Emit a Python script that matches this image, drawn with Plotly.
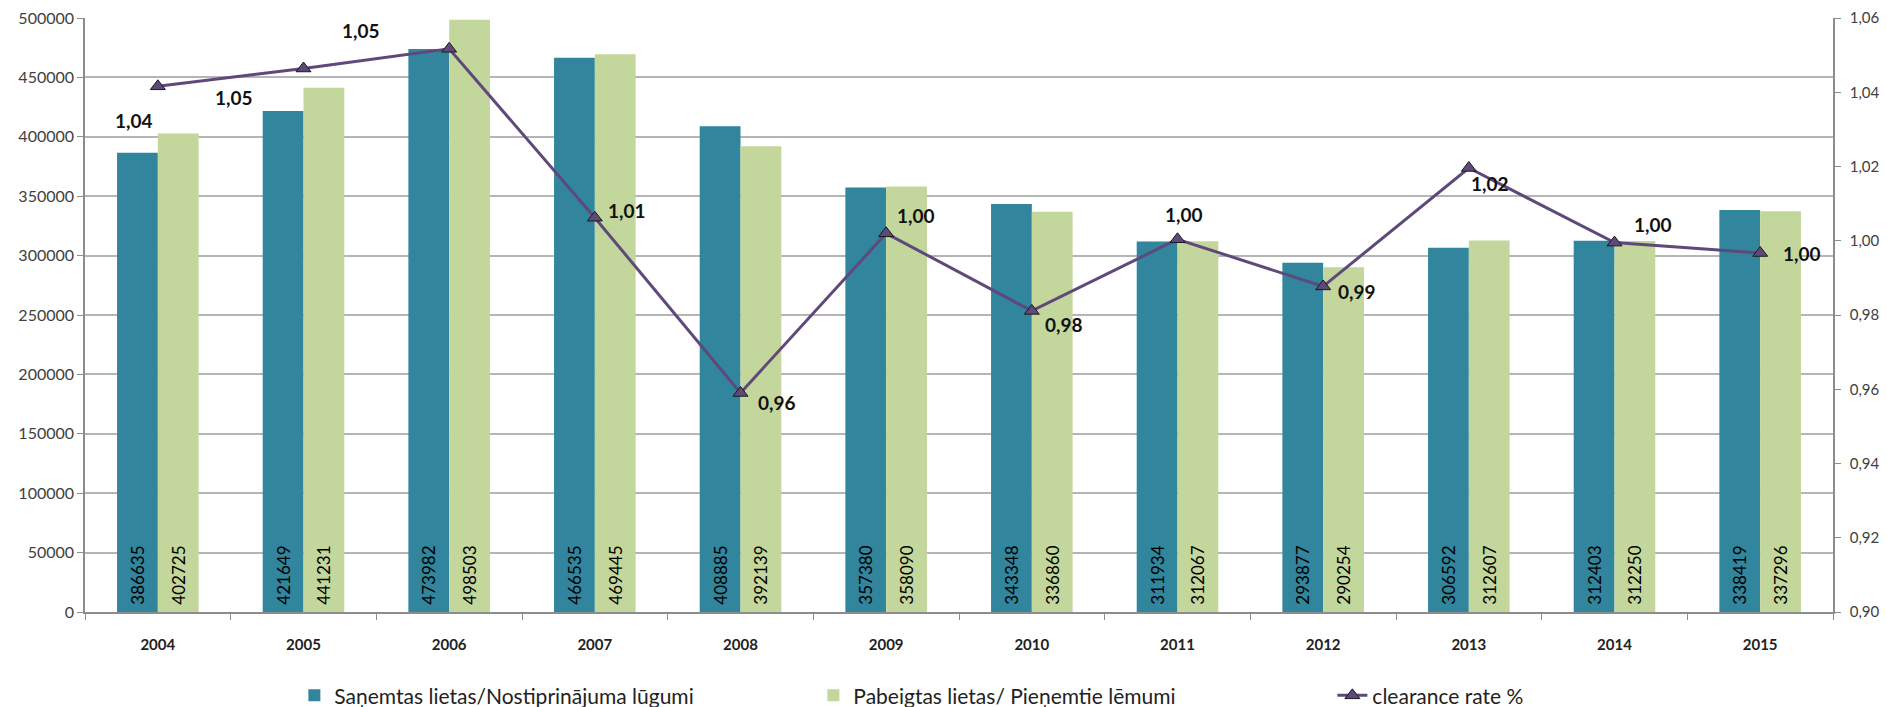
import plotly.graph_objects as go

# Court case statistics by year
years = ["2004", "2005", "2006", "2007", "2008", "2009",
         "2010", "2011", "2012", "2013", "2014", "2015"]
received = [386635, 421649, 473982, 466535, 408885, 357380,
            343348, 311934, 293877, 306592, 312403, 338419]
completed = [402725, 441231, 498503, 469445, 392139, 358090,
             336860, 312067, 290254, 312607, 312250, 337296]
clearance = [1.0416, 1.0464, 1.0517, 1.0062, 0.9590, 1.0020,
             0.9811, 1.0004, 0.9877, 1.0196, 0.9995, 0.9967]

name_received = "Saņemtas lietas/Nostiprinājuma lūgumi"
name_completed = "Pabeigtas lietas/ Pieņemtie lēmumi"
name_rate = "clearance rate %"

# label offsets (px) for the clearance-rate values
label_dx = [-24, -70, -88, 32, 36, 30, 32, 6, 34, 21, 38, 42]
label_dy = [-34, -29, 18, 7, -10, 18, -14, 25, -5, -16, 18, 0]

FONT = "Lato, 'Open Sans', sans-serif"
BLUE = "#31859C"
GREEN = "#C3D69B"
PURPLE = "#5F497A"
GRID = "#b5b5b5"
AXIS = "#8c8c8c"

# bar value labels sit a little above the bar base
PAD = "\u00a0"

fig = go.Figure()

for vals, name, color in ((received, name_received, BLUE),
                          (completed, name_completed, GREEN)):
    fig.add_trace(go.Bar(
        x=years, y=vals, name=name,
        marker=dict(color=color, line=dict(width=0)),
        text=[str(v) for v in vals], texttemplate=PAD + "%{text}",
        textposition="inside", insidetextanchor="start", textangle=-90,
        textfont=dict(family=FONT, size=17, color="#000000"),
        cliponaxis=False,
    ))

fig.add_trace(go.Scatter(
    x=years, y=clearance, name=name_rate, yaxis="y2",
    mode="lines+markers",
    line=dict(color=PURPLE, width=3),
    marker=dict(symbol="triangle-up", size=13, color=PURPLE,
                line=dict(color="#1a1a1a", width=1)),
    cliponaxis=False,
))

annotations = []
for i, (v, dx, dy) in enumerate(zip(clearance, label_dx, label_dy)):
    annotations.append(dict(
        x=i, y=v, xref="x", yref="y2",
        text=f"{v:.2f}".replace(".", ","),
        showarrow=False, xshift=dx, yshift=dy,
        font=dict(family=FONT, size=19, color="#111111", weight="bold"),
    ))

fig.update_layout(
    width=1887, height=707,
    margin=dict(l=85, r=54, t=18, b=95, autoexpand=False),
    paper_bgcolor="white", plot_bgcolor="white",
    separators=", ",
    barmode="group", bargap=0.44, bargroupgap=0,
    font=dict(family=FONT, color="#404040"),
    showlegend=True,
    legend=dict(
        orientation="h", xref="container", yref="container",
        x=0.156, xanchor="left", y=0.016, yanchor="middle",
        font=dict(family=FONT, size=21, color="#222222"),
        entrywidth=474, entrywidthmode="pixels",
        traceorder="normal",
    ),
    annotations=annotations,
    xaxis=dict(
        type="category", range=[-0.5, len(years) - 0.5],
        tickson="boundaries", ticks="outside", ticklen=6,
        tickcolor=AXIS, showline=True, linecolor=AXIS, linewidth=1.5,
        showgrid=False, tickangle=0, ticklabelstandoff=18,
        tickfont=dict(family=FONT, size=15, color="#222222", weight="bold"),
    ),
    yaxis=dict(
        range=[0, 500000], dtick=50000, tickformat="d",
        showgrid=True, gridcolor=GRID, gridwidth=1.5,
        showline=True, linecolor=AXIS, linewidth=1.5,
        ticks="outside", ticklen=6, tickcolor=AXIS,
        tickfont=dict(family=FONT, size=16, color="#404040"),
        zeroline=False,
    ),
    yaxis2=dict(
        overlaying="y", side="right",
        range=[0.90, 1.06], dtick=0.02, tickformat=".2f",
        showgrid=False, showline=True, linecolor=AXIS, linewidth=1.5,
        ticks="outside", ticklen=6, tickcolor=AXIS, ticklabelstandoff=6,
        tickfont=dict(family=FONT, size=15, color="#404040"),
        zeroline=False,
    ),
)

fig.write_html("out.html")
